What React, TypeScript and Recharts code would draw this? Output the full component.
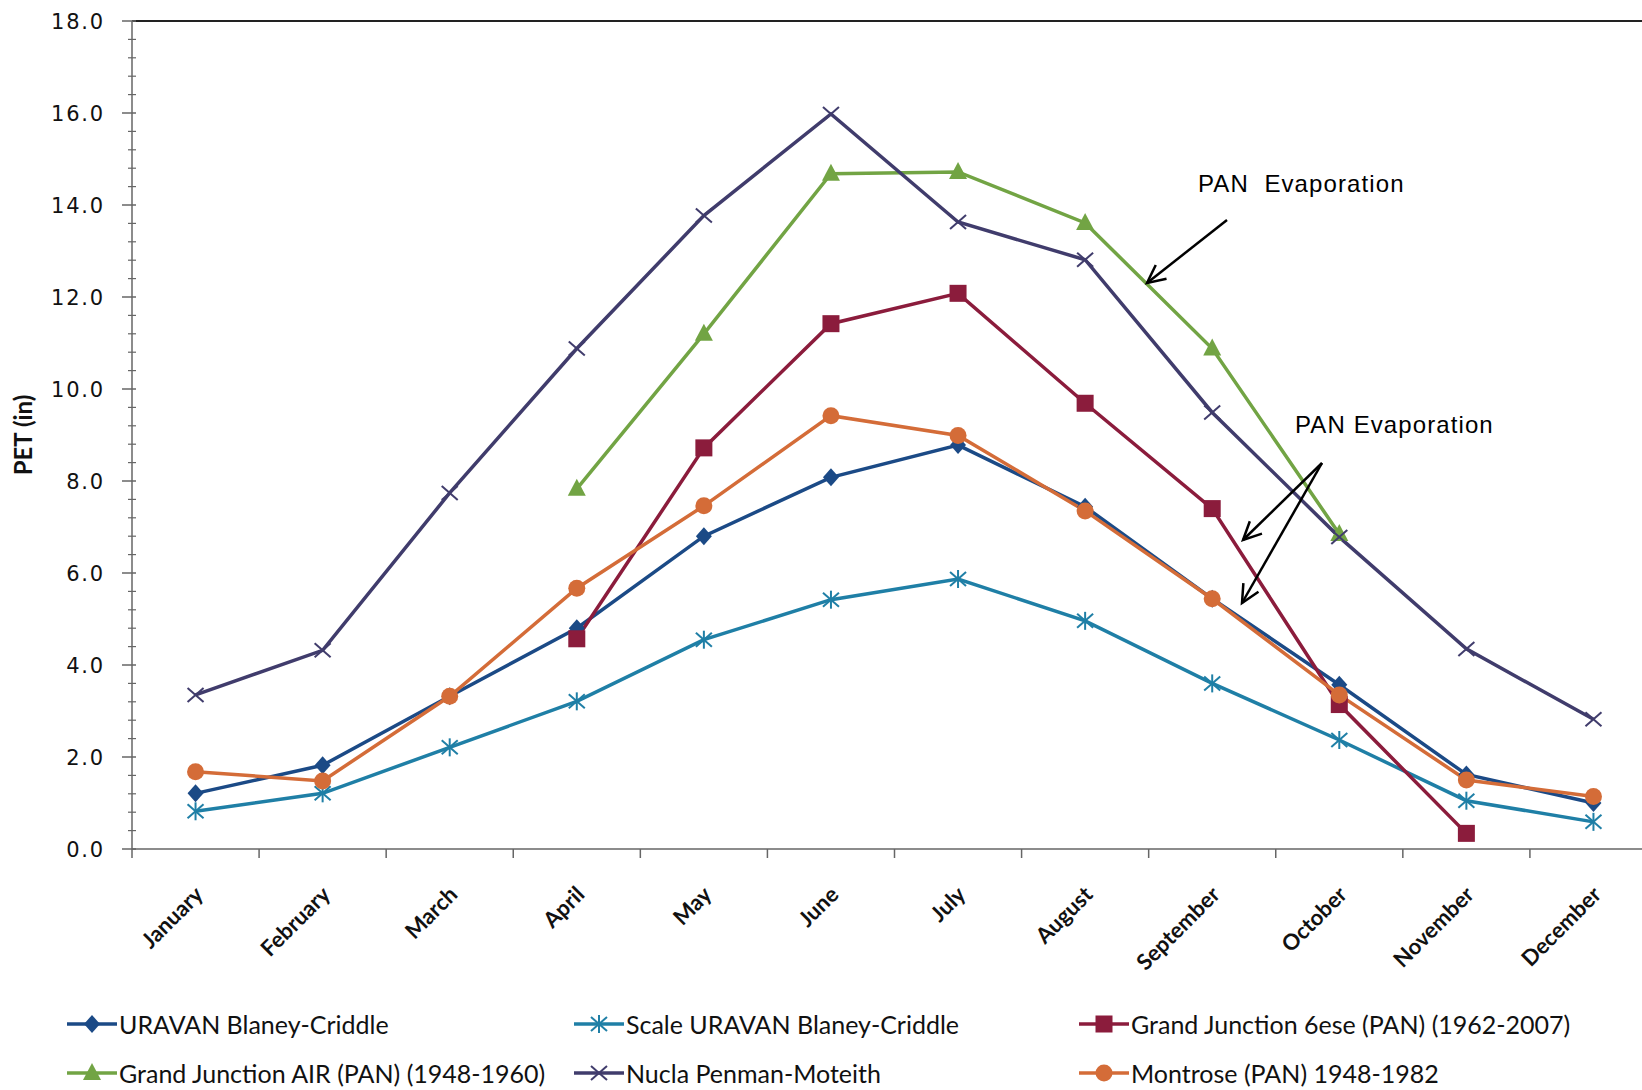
import { LineChart, Line, XAxis, YAxis, ReferenceLine, Legend } from 'recharts';

const months = ['January', 'February', 'March', 'April', 'May', 'June', 'July', 'August', 'September', 'October', 'November', 'December'];
const monthNo = [1, 2, 3, 4, 5, 6, 7, 8, 9, 10, 11, 12];

const uravanBC = [1.21, 1.82, 3.32, 4.8, 6.8, 8.08, 8.78, 7.44, 5.44, 3.57, 1.62, 1.0];
const scaleUravanBC = [0.82, 1.21, 2.21, 3.21, 4.55, 5.42, 5.87, 4.96, 3.6, 2.37, 1.05, 0.59];
const gj6ese = [null, null, null, 4.57, 8.72, 11.42, 12.08, 9.69, 7.4, 3.14, 0.34, null];
const gjAir = [null, null, null, 7.83, 11.2, 14.68, 14.72, 13.61, 10.88, 6.85, null, null];
const nucla = [3.35, 4.32, 7.74, 10.88, 13.77, 15.98, 13.63, 12.81, 9.49, 6.78, 4.35, 2.82];
const montrose = [1.68, 1.48, 3.32, 5.67, 7.46, 9.42, 8.99, 7.35, 5.44, 3.35, 1.5, 1.14];

// major labels every 2.0, minor marks every 0.4
const yTicks = Array.from({ length: 46 }, (_, i) => +(i * 0.4).toFixed(1));
// month labels at integers, category separators at half steps
const xTicks = [0.5, 1, 1.5, 2, 2.5, 3, 3.5, 4, 4.5, 5, 5.5, 6, 6.5, 7, 7.5, 8, 8.5, 9, 9.5, 10, 10.5, 11, 11.5, 12, 12.5];

type Shape = 'diamond' | 'asterisk' | 'square' | 'triangle' | 'cross' | 'circle';

const series: { key: string; name: string; color: string; shape: Shape }[] = [
  { key: 'uravan', name: 'URAVAN Blaney-Criddle', color: '#1b4a86', shape: 'diamond' },
  { key: 'scale', name: 'Scale URAVAN Blaney-Criddle', color: '#1f7fa6', shape: 'asterisk' },
  { key: 'gj6', name: 'Grand Junction 6ese (PAN) (1962-2007)', color: '#8b1c3c', shape: 'square' },
  { key: 'gjAir', name: 'Grand Junction AIR (PAN) (1948-1960)', color: '#72a444', shape: 'triangle' },
  { key: 'nucla', name: 'Nucla Penman-Moteith', color: '#403c6c', shape: 'cross' },
  { key: 'montrose', name: 'Montrose (PAN) 1948-1982', color: '#d46c38', shape: 'circle' },
];

const data = monthNo.map((m, i) => ({
  m,
  uravan: uravanBC[i],
  scale: scaleUravanBC[i],
  gj6: gj6ese[i],
  gjAir: gjAir[i],
  nucla: nucla[i],
  montrose: montrose[i],
}));

function Marker({ shape, cx, cy, color }: { shape: Shape; cx: number; cy: number; color: string }) {
  switch (shape) {
    case 'diamond':
      return <polygon points={`${cx},${cy - 9} ${cx + 8},${cy} ${cx},${cy + 9} ${cx - 8},${cy}`} fill={color} />;
    case 'square':
      return <rect x={cx - 8.5} y={cy - 8.5} width={17} height={17} fill={color} />;
    case 'triangle':
      return <polygon points={`${cx},${cy - 10} ${cx + 9},${cy + 7} ${cx - 9},${cy + 7}`} fill={color} />;
    case 'circle':
      return <circle cx={cx} cy={cy} r={8.5} fill={color} />;
    case 'cross':
      return (
        <g stroke={color} strokeWidth={2}>
          <line x1={cx - 8} y1={cy - 7} x2={cx + 8} y2={cy + 7} />
          <line x1={cx - 8} y1={cy + 7} x2={cx + 8} y2={cy - 7} />
        </g>
      );
    case 'asterisk':
      return (
        <g stroke={color} strokeWidth={2}>
          <line x1={cx - 8} y1={cy - 7} x2={cx + 8} y2={cy + 7} />
          <line x1={cx - 8} y1={cy + 7} x2={cx + 8} y2={cy - 7} />
          <line x1={cx} y1={cy - 9} x2={cx} y2={cy + 9} />
        </g>
      );
  }
}

function makeDot(shape: Shape, color: string) {
  return (props: any) => {
    const { cx, cy, index, value } = props;
    if (cx == null || cy == null || value == null) return <g key={`e${index}`} />;
    return (
      <g key={`d${index}`}>
        <Marker shape={shape} cx={cx} cy={cy} color={color} />
      </g>
    );
  };
}

function MonthTick(props: any) {
  const { x, y, payload } = props;
  const v = payload.value;
  if (!Number.isInteger(v)) {
    return <line x1={x} y1={y} x2={x} y2={y + 9} stroke="#666" strokeWidth={1.5} />;
  }
  const ax = x + 9;
  const ay = y + 47;
  return (
    <text x={ax} y={ay} transform={`rotate(-45 ${ax} ${ay})`} textAnchor="end" fontFamily="Lato" fontWeight={700} fontSize={22} fill="#111">
      {months[v - 1]}
    </text>
  );
}

function ValueTick(props: any) {
  const { x, y, payload } = props;
  const v = payload.value;
  const major = Math.abs(v / 2 - Math.round(v / 2)) < 1e-6;
  if (!major) {
    return <line x1={x - 4} y1={y} x2={x + 4} y2={y} stroke="#666" strokeWidth={1.2} />;
  }
  return (
    <g>
      <line x1={x - 10} y1={y} x2={x + 4} y2={y} stroke="#666" strokeWidth={1.5} />
      <text x={x - 27} y={y} dy={8} textAnchor="end" fontFamily="DejaVu Sans" fontSize={21} letterSpacing={1.8} fill="#111">
        {v.toFixed(1)}
      </text>
    </g>
  );
}

const legendCols = [67, 574, 1079];
const legendRows = [44, 93];

function LegendContent() {
  return (
    <div style={{ position: 'relative', width: 1642, height: 110, fontFamily: 'Lato', fontSize: 25, color: '#111' }}>
      {series.map((s, i) => {
        const left = legendCols[i % 3];
        const top = legendRows[Math.floor(i / 3)];
        return (
          <div key={s.key} style={{ position: 'absolute', left, top: top - 16, height: 32, display: 'flex', alignItems: 'center', whiteSpace: 'nowrap' }}>
            <svg width={50} height={32} style={{ marginRight: 2 }}>
              <line x1={0} y1={16} x2={50} y2={16} stroke={s.color} strokeWidth={3.5} />
              <Marker shape={s.shape} cx={25} cy={16} color={s.color} />
            </svg>
            <span>{s.name}</span>
          </div>
        );
      })}
    </div>
  );
}

const annoText = [
  { text: 'PAN  Evaporation', x: 1198, y: 192 },
  { text: 'PAN Evaporation', x: 1295, y: 433 },
];
const annoArrows = [
  { from: [1227, 220], to: [1147, 283] },
  { from: [1322, 463], to: [1243, 540] },
  { from: [1322, 463], to: [1242, 603] },
];

function Arrow({ from, to }: { from: number[]; to: number[] }) {
  const [x1, y1] = from;
  const [x2, y2] = to;
  const a = Math.atan2(y2 - y1, x2 - x1);
  const L = 20;
  const s = 0.45;
  const p1 = `${x2 - L * Math.cos(a - s)},${y2 - L * Math.sin(a - s)}`;
  const p2 = `${x2 - L * Math.cos(a + s)},${y2 - L * Math.sin(a + s)}`;
  return (
    <g stroke="#000" strokeWidth={2.5} fill="none">
      <line x1={x1} y1={y1} x2={x2} y2={y2} />
      <polyline points={`${p1} ${x2},${y2} ${p2}`} />
    </g>
  );
}

export default function App() {
  return (
    <div style={{ position: 'absolute', left: 0, top: 0, width: 1642, height: 1090, overflow: 'hidden', background: '#fff' }}>
      <LineChart width={1660} height={1090} data={data} margin={{ top: 21, right: 3, left: 131, bottom: 0 }}>
        <XAxis
          dataKey="m"
          type="number"
          domain={[0.5, 12.5]}
          allowDataOverflow
          ticks={xTicks}
          interval={0}
          tickSize={0}
          tickMargin={0}
          tickLine={false}
          stroke="#666"
          strokeWidth={1.5}
          height={131}
          tick={<MonthTick />}
        />
        <YAxis
          domain={[0, 18]}
          allowDataOverflow
          ticks={yTicks}
          interval={0}
          width={1}
          tickSize={0}
          tickMargin={0}
          tickLine={false}
          stroke="#666"
          strokeWidth={1.5}
          tick={<ValueTick />}
          label={{ value: 'PET (in)', angle: -90, position: 'left', offset: 108, style: { fontFamily: 'Lato', fontWeight: 700, fontSize: 24, fill: '#111', textAnchor: 'middle' } }}
        />
        <ReferenceLine y={18} stroke="#222" strokeWidth={1.8} />
        {series.map((s) => (
          <Line
            key={s.key}
            dataKey={s.key}
            name={s.name}
            type="linear"
            stroke={s.color}
            strokeWidth={3.5}
            dot={makeDot(s.shape, s.color)}
            activeDot={false}
            isAnimationActive={false}
          />
        ))}
        <Legend verticalAlign="bottom" content={<LegendContent />} wrapperStyle={{ left: 0, width: 1642, height: 110 }} />
      </LineChart>
      <svg width={1642} height={1090} style={{ position: 'absolute', left: 0, top: 0, pointerEvents: 'none' }}>
        {annoArrows.map((a, i) => (
          <Arrow key={i} from={a.from} to={a.to} />
        ))}
        {annoText.map((t, i) => (
          <text key={i} x={t.x} y={t.y} fontFamily="Liberation Sans" fontSize={24} letterSpacing={1.1} fill="#000" style={{ whiteSpace: 'pre' }}>
            {t.text}
          </text>
        ))}
      </svg>
    </div>
  );
}
